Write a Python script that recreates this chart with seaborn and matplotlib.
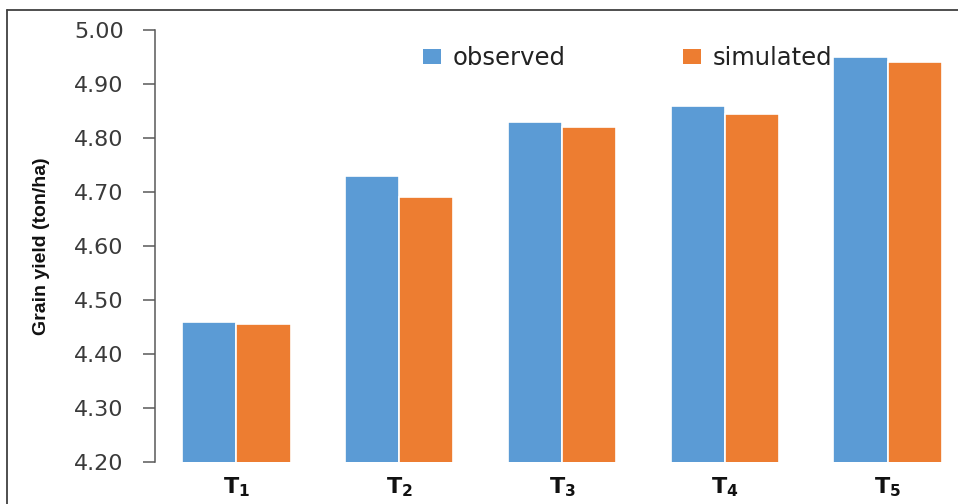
import matplotlib
matplotlib.use("Agg")
import matplotlib.pyplot as plt
from matplotlib.lines import Line2D
from matplotlib.patches import Patch
import seaborn as sns
import pandas as pd

# Grain yield per treatment (ton/ha)
treatments = ["T1", "T2", "T3", "T4", "T5"]
tick_labels = [r"$\mathbf{T_1}$", r"$\mathbf{T_2}$", r"$\mathbf{T_3}$",
               r"$\mathbf{T_4}$", r"$\mathbf{T_5}$"]
observed = [4.46, 4.73, 4.83, 4.86, 4.95]
simulated = [4.455, 4.69, 4.82, 4.845, 4.94]
series = ["observed", "simulated"]
colors = ["#5B9BD5", "#ED7D31"]

df = pd.DataFrame({
    "treatment": treatments * 2,
    "yield": observed + simulated,
    "series": [series[0]] * len(treatments) + [series[1]] * len(treatments),
})

sns.set_theme(style="white")
plt.rcParams["font.family"] = ["DejaVu Sans"]

W, H = 958, 504
fig = plt.figure(figsize=(W / 100, H / 100), dpi=100)
ax = fig.add_axes([155 / W, 42 / H, (969 - 155) / W, 432 / H])

sns.barplot(data=df, x="treatment", y="yield", hue="series",
            palette=colors, saturation=1, width=0.665, edgecolor="white",
            linewidth=1.2, ax=ax, legend=False)

ax.set_ylim(4.20, 5.00)
ax.set_xlim(-0.5, 4.5)
ax.set_yticks([4.20 + 0.1 * i for i in range(9)])
ax.set_yticklabels([f"{4.20 + 0.1 * i:.2f}" for i in range(9)],
                   fontsize=16, color="#3a3a3a")
ax.set_xticks(range(len(treatments)))
ax.set_xticklabels(tick_labels, fontsize=16, color="#111111")
ax.tick_params(axis="y", direction="out", length=8.5, width=1.1,
               color="#595959", pad=14, left=True)
ax.tick_params(axis="x", length=0, pad=10)

for side in ["top", "right", "bottom"]:
    ax.spines[side].set_visible(False)
ax.spines["left"].set_color("#595959")
ax.spines["left"].set_linewidth(1.1)

ax.set_xlabel("")
ax.set_ylabel("Grain yield (ton/ha)", fontsize=14, fontweight="bold",
              family=["Liberation Sans Narrow", "Liberation Sans"],
              color="#111111", labelpad=17)

handles = [Patch(facecolor=c, edgecolor="none") for c in colors]
fig.legend(handles, series, loc="center left",
           bbox_to_anchor=(411 / W, 1 - 58 / H), ncol=2, frameon=False,
           fontsize=17.5, handlelength=0.75, handleheight=0.6,
           handletextpad=0.45, columnspacing=4.85, borderpad=0,
           labelcolor="#222222")

# frame lines along the left and top of the figure
fig.add_artist(Line2D([7 / W, 7 / W], [0, 1 - 10 / H], color="#404040",
                      linewidth=1.3, transform=fig.transFigure))
fig.add_artist(Line2D([7 / W, 1], [1 - 10 / H, 1 - 10 / H], color="#404040",
                      linewidth=1.3, transform=fig.transFigure))

fig.savefig("out.png", dpi=100)
